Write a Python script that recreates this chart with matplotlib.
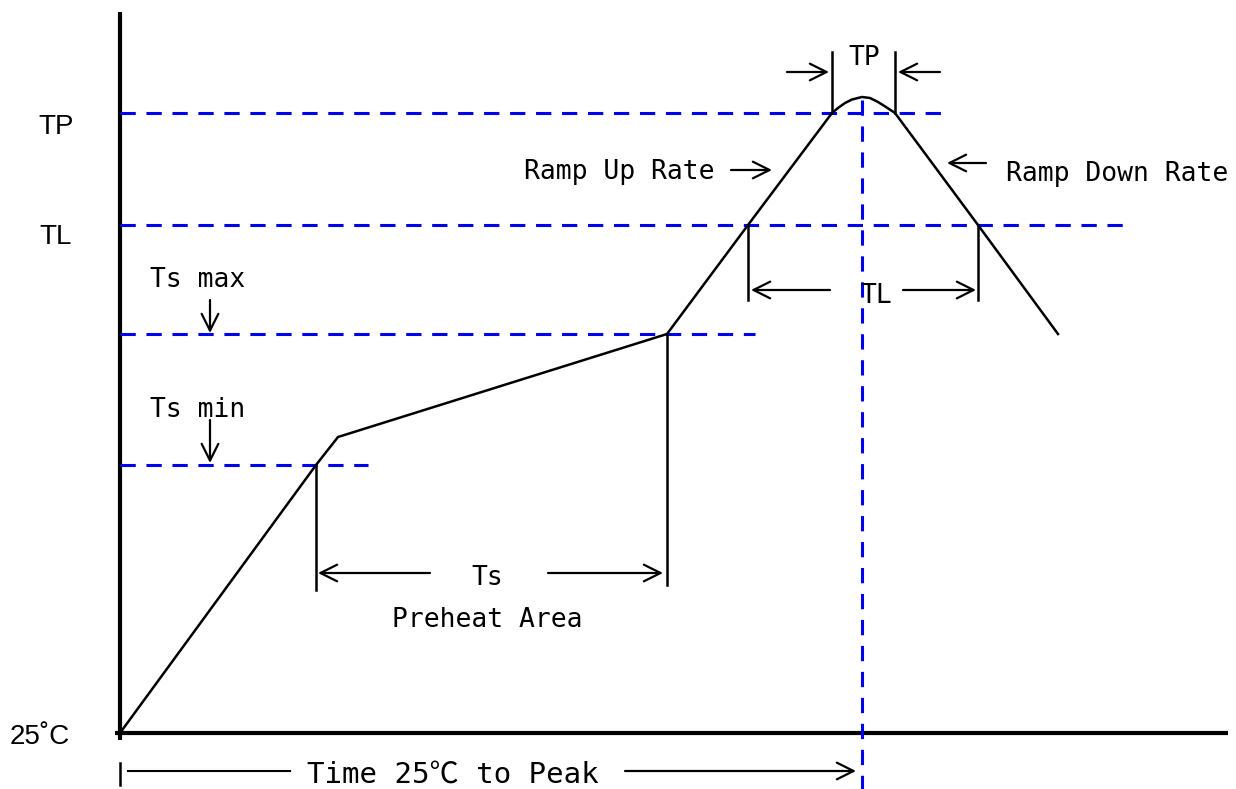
import matplotlib.pyplot as plt

# reflow profile, in picture coordinates (x right, y down)
PROFILE_X = [120, 316, 338, 667, 748, 832, 838, 845, 852, 862, 870, 878, 886, 895, 978, 1058]
PROFILE_Y = [733, 465, 437, 334, 225, 113, 108, 103, 99.5, 97, 98, 102, 107, 113, 225, 334]

# dashed reference levels: y and right end
LEVELS_Y = [113, 225, 334, 465]
LEVELS_XEND = [948, 1128, 755, 368]
PEAK_X = 862

# vertical markers: x, top, bottom
MARK_X = [316, 667, 748, 978, 832, 895, 120]
MARK_TOP = [465, 334, 225, 225, 52, 52, 763]
MARK_BOT = [590, 585, 300, 300, 113, 113, 785]

# arrows: x_from, y_from, x_to, y_to
ARROWS = [
    (430, 573, 318, 573), (548, 573, 663, 573),
    (830, 290, 751, 290), (903, 290, 976, 290),
    (787, 72, 829, 72), (940, 72, 898, 72),
    (731, 170, 772, 170), (986, 163, 947, 163),
    (210, 300, 210, 333), (210, 420, 210, 463),
    (625, 771, 856, 771),
]

TEXTS = [
    (487, 578, "Ts", "center", 19), (487, 620, "Preheat Area", "center", 19),
    (876, 296, "TL", "center", 19), (864, 58, "TP", "center", 19),
    (715, 172, "Ramp Up Rate", "right", 19), (1006, 174, "Ramp Down Rate", "left", 19),
    (150, 280, "Ts max", "left", 19), (150, 410, "Ts min", "left", 19),
    (453, 775, "Time 25℃ to Peak", "center", 21),
]
SIDE_LABELS = [(56, 127, "TP"), (56, 237, "TL"), (40, 737, "25˚C")]

plt.rcParams["font.family"] = ["DejaVu Sans Mono", "Noto Sans CJK SC", "DejaVu Sans"]

fig = plt.figure(figsize=(12.36, 7.89), dpi=100)
ax = fig.add_axes([0, 0, 1, 1])
ax.set_xlim(0, 1236)
ax.set_ylim(789, 0)
ax.axis("off")

# axes of the diagram
ax.plot([120, 120], [12, 740], color="black", lw=3, solid_capstyle="butt")
ax.plot([115, 1228], [733, 733], color="black", lw=3, solid_capstyle="butt")

for y, xe in zip(LEVELS_Y, LEVELS_XEND):
    ax.plot([120, xe], [y, y], color="#0000ee", lw=2.2, linestyle=(0, (5, 3.5)))
ax.plot([PEAK_X, PEAK_X], [100, 789], color="#0000ee", lw=2.2, linestyle=(0, (5, 3.5)))

ax.plot(PROFILE_X, PROFILE_Y, color="black", lw=1.8)

for x, yt, yb in zip(MARK_X, MARK_TOP, MARK_BOT):
    ax.plot([x, x], [yt, yb], color="black", lw=1.8)

ax.plot([128, 290], [771, 771], color="black", lw=1.5)

for x0, y0, x1, y1 in ARROWS:
    ax.annotate("", xy=(x1, y1), xytext=(x0, y0),
                arrowprops=dict(arrowstyle="->", color="black", lw=1.6,
                                mutation_scale=30, shrinkA=0, shrinkB=0))

for x, y, s, ha, size in TEXTS:
    ax.text(x, y, s, ha=ha, va="center", fontsize=size)

for x, y, s in SIDE_LABELS:
    ax.text(x, y, s, ha="center", va="center", fontsize=20,
            family=["Liberation Sans", "DejaVu Sans"])

fig.savefig("out.png", dpi=100)
